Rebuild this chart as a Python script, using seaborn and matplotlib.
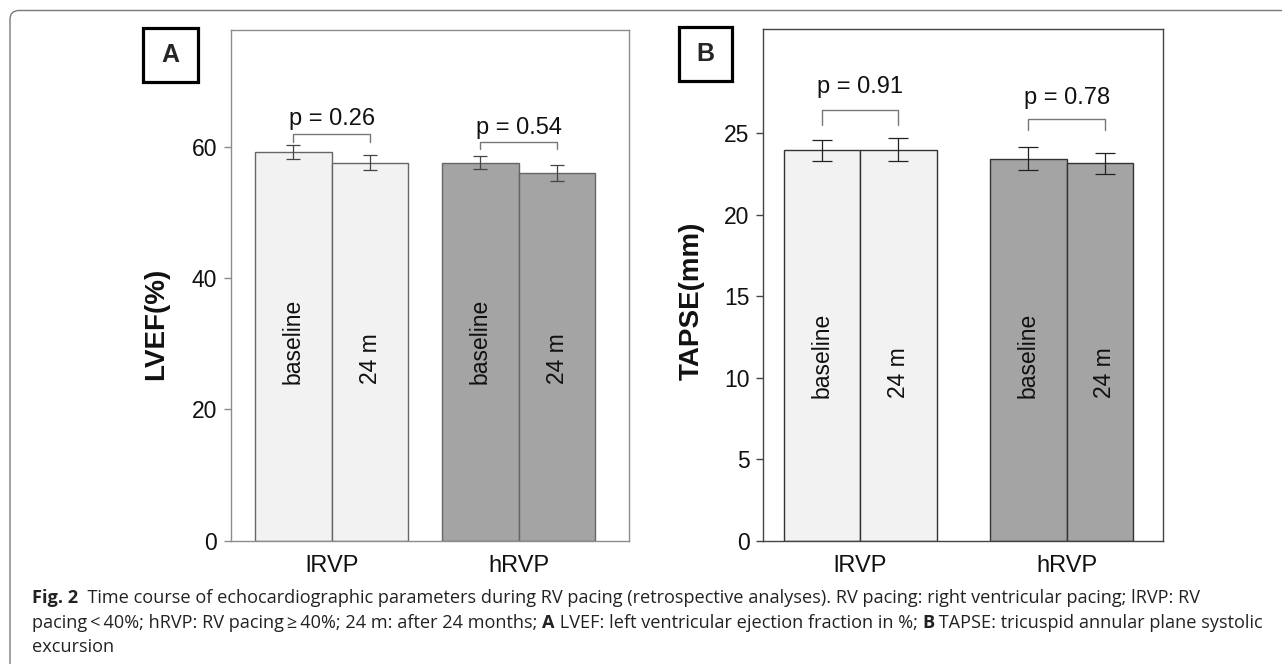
import matplotlib
matplotlib.use("Agg")
import matplotlib.pyplot as plt
import seaborn as sns
import pandas as pd
from matplotlib.patches import FancyBboxPatch, Rectangle
from matplotlib.container import BarContainer
from matplotlib.transforms import IdentityTransform, blended_transform_factory

# ---------------- data ----------------
groups = ["lRVP", "hRVP"]
times = ["baseline", "24 m"]
# order: lRVP-baseline, lRVP-24m, hRVP-baseline, hRVP-24m
lvef_mean = [59.2, 57.6, 57.6, 56.0]
lvef_err = [1.1, 1.15, 0.95, 1.2]
tapse_mean = [23.95, 24.0, 23.45, 23.15]
tapse_err = [0.65, 0.7, 0.72, 0.64]
lvef_p = ["p = 0.26", "p = 0.54"]
tapse_p = ["p = 0.91", "p = 0.78"]
lvef_ticks = [0, 20, 40, 60]
tapse_ticks = [0, 5, 10, 15, 20, 25]

W, H = 1282, 664
sns.set_theme(style="white")
plt.rcParams["font.family"] = ["Liberation Sans", "DejaVu Sans"]

fig = plt.figure(figsize=(W / 100, H / 100), dpi=100)
fig.patch.set_facecolor("white")

light, dark = "#f2f2f2", "#a4a4a4"
group_colors = [light, dark]


def make_panel(rect, means, errs, pvals, ticks, ylim, xlim, width, ylabel,
               spine_col, edge_col, err_col, capsize, bracket_top, bracket_leg,
               p_y, inbar_y, ylabel_x, narrow_last=None):
    ax = fig.add_axes(rect)
    df = pd.DataFrame({
        "group": [g for g in groups for _ in times],
        "time": [t for _ in groups for t in times],
        "value": means,
    })
    sns.barplot(data=df, x="group", y="value", hue="time", order=groups,
                hue_order=times, width=width, gap=0, errorbar=None,
                legend=False, ax=ax, edgecolor=edge_col, linewidth=1.0,
                palette=[light, light], saturation=1)
    bar_conts = [c for c in ax.containers if isinstance(c, BarContainer)]
    centers = {}
    for hi, cont in enumerate(bar_conts):
        for gi, bar in enumerate(cont):
            bar.set_facecolor(group_colors[gi])
            bar.set_edgecolor(edge_col)
            idx = gi * 2 + hi
            centers[idx] = bar.get_x() + bar.get_width() / 2
    for idx in range(4):
        ax.errorbar(centers[idx], means[idx], yerr=errs[idx], fmt="none",
                    ecolor=err_col, elinewidth=0.9, capsize=capsize,
                    capthick=0.9, zorder=5)
    if narrow_last is not None:
        bar_conts[1][1].set_width(narrow_last)

    tr = blended_transform_factory(ax.transData, ax.transAxes)
    for gi in range(2):
        x1, x2 = centers[gi * 2], centers[gi * 2 + 1]
        ax.plot([x1, x1, x2, x2],
                [bracket_leg[gi], bracket_top[gi], bracket_top[gi], bracket_leg[gi]],
                color="#777777", lw=1.0, zorder=6)
        ax.text((x1 + x2) / 2, p_y[gi], pvals[gi], ha="center", va="baseline",
                fontsize=17, color="#111111")
        for hi in range(2):
            ax.text(centers[gi * 2 + hi], inbar_y, times[hi], rotation=90,
                    ha="center", va="bottom", fontsize=16.5, color="#111111",
                    transform=tr, zorder=7)

    ax.set_xlim(*xlim)
    ax.set_ylim(*ylim)
    ax.set_yticks(ticks)
    ax.set_yticklabels([str(t) for t in ticks])
    ax.set_xlabel("")
    ax.set_ylabel("")
    for s in ax.spines.values():
        s.set_visible(True)
        s.set_color(spine_col)
        s.set_linewidth(1.0)
    ax.tick_params(axis="y", left=True, length=5, width=1, color=spine_col,
                   pad=5, labelsize=16.5, labelcolor="#111111")
    ax.tick_params(axis="x", bottom=False, length=0, pad=10, labelsize=17,
                   labelcolor="#111111")
    ax.text(ylabel_x, 0.314, ylabel, rotation=90, ha="center", va="bottom",
            fontsize=20, fontweight="bold", transform=ax.transAxes,
            color="#111111")
    ax.grid(False)
    return ax


axA = make_panel([231 / W, 1 - 540.7 / H, 398 / W, 510.7 / H],
                 lvef_mean, lvef_err, lvef_p, lvef_ticks, (0, 77.8),
                 (-0.539, 1.590), 0.82, "LVEF(%)",
                 "#8c8c8c", "#666666", "#444444", 4.7,
                 [61.9, 60.7], [60.7, 59.6], [63.4, 62.0], 0.306, -0.187)

axB = make_panel([763.3 / W, 1 - 540.7 / H, 399.4 / W, 511.7 / H],
                 tapse_mean, tapse_err, tapse_p, tapse_ticks, (0, 31.4),
                 (-0.469, 1.465), 0.742, "TAPSE(mm)",
                 "#444444", "#333333", "#222222", 7.2,
                 [26.4, 25.9], [25.5, 25.2], [27.48, 26.82], 0.279, -0.179,
                 narrow_last=0.32)

# panel letter boxes
for (x0, y0, x1, y1, lab) in [(143.3, 27.7, 198.3, 82.3, "A"),
                              (679.0, 27.0, 731.7, 81.0, "B")]:
    fig.patches.append(Rectangle((x0, H - y1), x1 - x0, y1 - y0, fill=False,
                                 lw=2.3, ec="black", transform=IdentityTransform()))
    fig.text((x0 + x1) / 2 / W, 1 - (y0 + y1) / 2 / H, lab, ha="center",
             va="center", fontsize=18, fontweight="bold")

# outer frame (top and left, rounded corner)
fig.patches.append(FancyBboxPatch((10, -60), 1400, H - 10.5 + 60,
                                  boxstyle="round,pad=0,rounding_size=9",
                                  fill=False, ec="#7a7a7a", lw=1.0,
                                  transform=IdentityTransform()))

# caption
cap_font = ["Open Sans", "DejaVu Sans"]
lines = [
    [("Fig. 2", "bold"), ("  Time course of echocardiographic parameters during RV pacing (retrospective analyses). RV pacing: right ventricular pacing; lRVP: RV", "normal")],
    [("pacing\u2009<\u200940%; hRVP: RV pacing\u2009\u2265\u200940%; 24 m: after 24 months; ", "normal"), ("A", "bold"),
     (" LVEF: left ventricular ejection fraction in %; ", "normal"), ("B", "bold"),
     (" TAPSE: tricuspid annular plane systolic", "normal")],
    [("excursion", "normal")],
]
line_ends = [1251, 1262, None]
baselines = [603, 627.5, 652]
renderer = fig.canvas.get_renderer()


def run_width(txt, weight, size):
    t1 = fig.text(0, 0, "|" + txt + "|", fontsize=size, fontweight=weight, family=cap_font)
    t2 = fig.text(0, 0, "||", fontsize=size, fontweight=weight, family=cap_font)
    w = t1.get_window_extent(renderer).width - t2.get_window_extent(renderer).width
    t1.remove(); t2.remove()
    return w


base = 10.0
fits = []
for runs, end in zip(lines, line_ends):
    if end is None:
        continue
    w = sum(run_width(t, wt, base) for t, wt in runs)
    fits.append(base * (end - 32) / w)
size = min(fits)

for runs, yb in zip(lines, baselines):
    x = 32.0
    for txt, wt in runs:
        fig.text(x / W, 1 - yb / H, txt, fontsize=size, fontweight=wt,
                 family=cap_font, ha="left", va="baseline", color="#222222")
        x += run_width(txt, wt, size)

fig.savefig("out.png", dpi=100, facecolor="white")
